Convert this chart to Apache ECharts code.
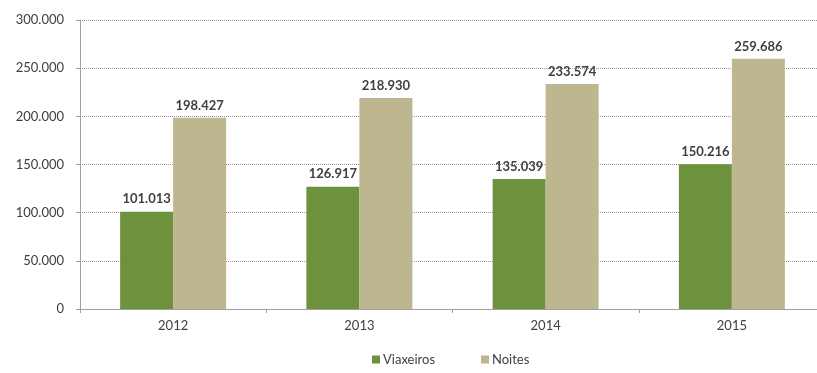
<!DOCTYPE html>
<html>
<head>
<meta charset="utf-8">
<script src="https://cdn.jsdelivr.net/npm/echarts@6/dist/echarts.min.js"></script>
<style>
  html, body { margin: 0; padding: 0; background: #fff; }
  #chart { width: 817px; height: 373px; }
</style>
</head>
<body>
<div id="chart"></div>
<script>
var years = ["2012", "2013", "2014", "2015"];
var viaxeiros = [101013, 126917, 135039, 150216];
var noites = [198427, 218930, 233574, 259686];

function fmt(v) {
  return String(v).replace(/\B(?=(\d{3})+(?!\d))/g, ".");
}

var myChart = echarts.init(document.getElementById("chart"));

var labelStyle = {
  show: true,
  position: "top",
  distance: 6,
  color: "#404040",
  fontFamily: "Lato",
  fontSize: 13,
  fontWeight: "bold",
  formatter: function (p) {
    return fmt(p.value);
  },
};

var option = {
  animation: false,
  textStyle: { fontFamily: "Lato" },
  grid: {
    left: 80,
    width: 745,
    top: 20,
    bottom: 64,
    outerBoundsMode: "none",
  },
  legend: {
    bottom: 2,
    left: 367,
    itemWidth: 8,
    itemHeight: 8,
    itemGap: 46,
    icon: "rect",
    textStyle: { color: "#404040", fontSize: 13, fontFamily: "Lato", padding: [0, 0, 0, -2] },
    data: ["Viaxeiros", "Noites"],
  },
  xAxis: {
    type: "category",
    data: years,
    axisLine: { lineStyle: { color: "#a0a0a0" } },
    axisTick: { show: true, length: 4, lineStyle: { color: "#a0a0a0" } },
    axisLabel: { color: "#404040", fontSize: 13, margin: 10 },
  },
  yAxis: {
    type: "value",
    min: 0,
    max: 300000,
    interval: 50000,
    axisLine: { show: true, lineStyle: { color: "#a0a0a0" } },
    axisTick: { show: true, length: 4, lineStyle: { color: "#a0a0a0" } },
    axisLabel: {
      color: "#404040",
      fontSize: 13,
      margin: 16,
      formatter: function (v) {
        return fmt(v);
      },
    },
    splitLine: {
      lineStyle: { type: "dotted", color: "#a89090", width: 1 },
    },
  },
  series: [
    {
      name: "Viaxeiros",
      type: "bar",
      data: viaxeiros,
      barWidth: 53,
      barGap: "0%",
      itemStyle: { color: "#6e913e" },
      label: labelStyle,
    },
    {
      name: "Noites",
      type: "bar",
      data: noites,
      barWidth: 53,
      itemStyle: { color: "#bdb68e" },
      label: labelStyle,
    },
  ],
};

myChart.setOption(option);
</script>
</body>
</html>
